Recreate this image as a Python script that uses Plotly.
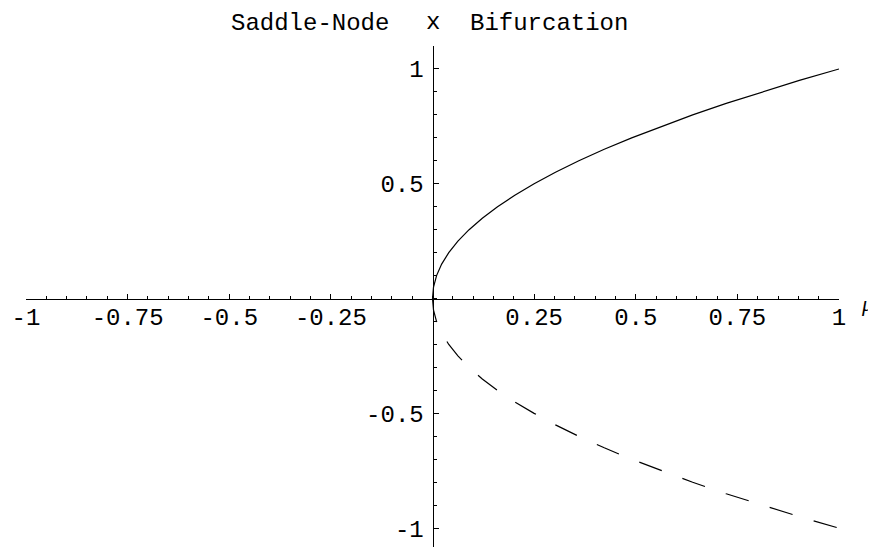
import plotly.graph_objects as go

# saddle-node branches: parameter mu against equilibrium x
mu = [0, 0.0025, 0.01, 0.0225, 0.04, 0.0625, 0.09, 0.1225, 0.16, 0.2025, 0.25,
      0.3025, 0.36, 0.4225, 0.49, 0.5625, 0.64, 0.7225, 0.81, 0.9025, 1.0]
x_stable = [0, 0.05, 0.1, 0.15, 0.2, 0.25, 0.3, 0.35, 0.4, 0.45, 0.5,
            0.55, 0.6, 0.65, 0.7, 0.75, 0.8, 0.85, 0.9, 0.95, 1.0]
x_unstable = [0, -0.05, -0.1, -0.15, -0.2, -0.25, -0.3, -0.35, -0.4, -0.45, -0.5,
              -0.55, -0.6, -0.65, -0.7, -0.75, -0.8, -0.85, -0.9, -0.95, -1.0]

x_tickvals = [-1, -0.75, -0.5, -0.25, 0.25, 0.5, 0.75, 1]
x_ticktext = ["-1", "-0.75", "-0.5", "-0.25", "0.25", "0.5", "0.75", "1"]
y_tickvals = [-1, -0.5, 0.5, 1]
y_ticktext = ["-1", "-0.5", "0.5", "1"]

X_RANGE = [-1, 1]
Y_RANGE = [-1.082, 1.10]
MONO = "Courier New, Liberation Mono, monospace"

fig = go.Figure()
fig.add_trace(go.Scatter(x=mu, y=x_stable, mode="lines",
                         line=dict(color="black", width=1.2)))
fig.add_trace(go.Scatter(x=mu, y=x_unstable, mode="lines",
                         line=dict(color="black", width=1.2, dash="24px,22px")))

# put the axes through the origin
y0_frac = (0 - Y_RANGE[0]) / (Y_RANGE[1] - Y_RANGE[0])
x0_frac = (0 - X_RANGE[0]) / (X_RANGE[1] - X_RANGE[0])

axis_common = dict(showgrid=False, zeroline=False, showline=True,
                   linecolor="black", linewidth=1, automargin=False,
                   ticks="inside", ticklen=5, tickwidth=1, tickcolor="black",
                   tickmode="array", anchor="free",
                   tickfont=dict(family=MONO, size=24, color="black"))

# page body has an 8px margin, so the plot area is nudged up/left by that
fig.update_layout(
    width=876, height=547,
    margin=dict(l=18, r=45, t=38, b=8, autoexpand=False),
    paper_bgcolor="white", plot_bgcolor="white",
    showlegend=False,
    xaxis=dict(axis_common, range=X_RANGE, tickvals=x_tickvals, ticktext=x_ticktext,
               position=y0_frac, ticklabelstandoff=-3,
               minor=dict(ticks="inside", ticklen=3, tickcolor="black",
                          tickmode="linear", tick0=0, dtick=0.05, showgrid=False)),
    yaxis=dict(axis_common, range=Y_RANGE, tickvals=y_tickvals, ticktext=y_ticktext,
               position=x0_frac, ticklabelstandoff=4,
               minor=dict(ticks="inside", ticklen=3, tickcolor="black",
                          tickmode="linear", tick0=0, dtick=0.1, showgrid=False)),
)

title_font = dict(family=MONO, size=24, color="black")
fig.add_annotation(x=0.3493, y=1.044, xref="paper", yref="paper", text="Saddle-Node",
                   showarrow=False, xanchor="center", yanchor="middle", font=title_font)
fig.add_annotation(x=0.6433, y=1.044, xref="paper", yref="paper", text="Bifurcation",
                   showarrow=False, xanchor="center", yanchor="middle", font=title_font)
fig.add_annotation(x=0.5006, y=1.047, xref="paper", yref="paper", text="x",
                   showarrow=False, xanchor="center", yanchor="middle", font=title_font)
fig.add_annotation(x=1.024, y=0.487, xref="paper", yref="paper", text="<i>μ</i>",
                   showarrow=False, xanchor="left", yanchor="middle",
                   font=dict(family="Liberation Serif, serif", size=22, color="black"))

fig.write_html("out.html")
